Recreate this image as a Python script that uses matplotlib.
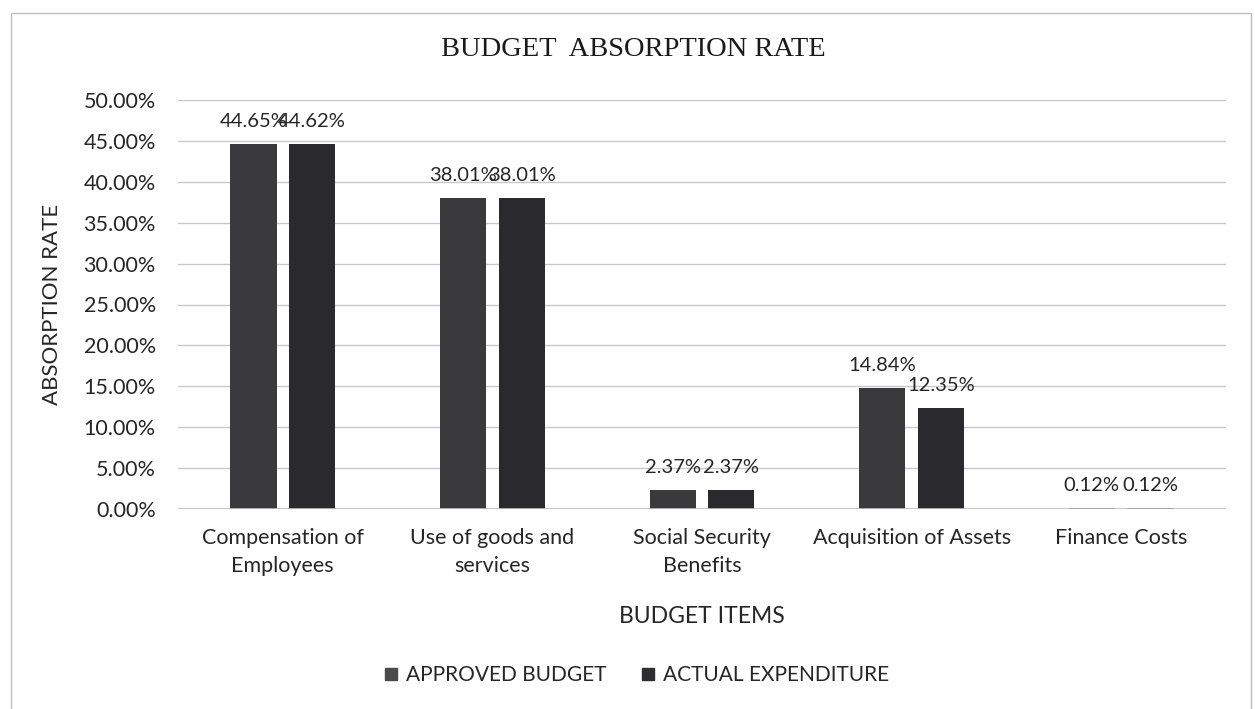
import matplotlib
matplotlib.use("Agg")
import matplotlib.pyplot as plt
from matplotlib.patches import Rectangle
from matplotlib.lines import Line2D
import numpy as np

categories = ["Compensation of\nEmployees", "Use of goods and\nservices",
              "Social Security\nBenefits", "Acquisition of Assets", "Finance Costs"]
approved_budget = [44.65, 38.01, 2.37, 14.84, 0.12]
actual_expenditure = [44.62, 38.01, 2.37, 12.35, 0.12]
series_names = ["APPROVED BUDGET", "ACTUAL EXPENDITURE"]
yticks = [0, 5, 10, 15, 20, 25, 30, 35, 40, 45, 50]

W, H = 1255, 709
fig = plt.figure(figsize=(W / 100, H / 100), dpi=100)
fig.patch.set_facecolor("white")

sans = ["Lato", "DejaVu Sans"]
serif = ["Liberation Serif", "DejaVu Serif"]
txt = "#262626"

# outer chart border
fig.patches.append(Rectangle((11 / W, 1 - 714 / H), (1251 - 11) / W, (714 - 13) / H,
                             transform=fig.transFigure, fill=False,
                             edgecolor="#bdbdbd", linewidth=1.0))

ax = fig.add_axes([178 / W, 1 - 509 / H, (1226 - 178) / W, (509 - 100) / H])
x = np.arange(len(categories))
bw = 0.22
off = 0.14
c1, c2 = "#3a3a3c", "#2a2a2e"
b1 = ax.bar(x - off, approved_budget, bw, color=c1, zorder=3)
b2 = ax.bar(x + off, actual_expenditure, bw, color=c2, zorder=3)

for bars, vals in ((b1, approved_budget), (b2, actual_expenditure)):
    for r, v in zip(bars, vals):
        ax.annotate(f"{v:.2f}%", (r.get_x() + r.get_width() / 2, v),
                    xytext=(0, 12), textcoords="offset points",
                    ha="center", va="baseline", fontsize=14.5,
                    family=sans, color=txt, zorder=5)

ax.set_xlim(-0.5, len(categories) - 0.5)
ax.set_ylim(0, 50)
ax.set_yticks(yticks)
ax.set_yticklabels([f"{t:.2f}%" for t in yticks], fontsize=15.5, family=sans, color=txt)
ax.set_xticks(x)
ax.set_xticklabels(categories, fontsize=15.5, family=sans, color=txt, linespacing=1.5)
ax.tick_params(axis="y", length=0, pad=16)
ax.tick_params(axis="x", length=0, pad=14)
ax.grid(axis="y", color="#c8c8c8", linewidth=1.0, zorder=0)
for s in ax.spines.values():
    s.set_visible(False)
ax.axhline(0, color="#bfbfbf", linewidth=1.2, zorder=4)

ax.set_ylabel("ABSORPTION RATE", fontsize=16, family=sans, color=txt)
ax.yaxis.set_label_coords((62 - 178) / (1226 - 178), 0.5)
ax.set_xlabel("BUDGET ITEMS", fontsize=16.5, family=sans, color=txt)
ax.xaxis.set_label_coords((702 - 178) / (1226 - 178), -(606 - 509) / (509 - 100))

fig.text(633 / W, 1 - 50 / H, "BUDGET  ABSORPTION RATE", ha="center", va="center",
         fontsize=20.5, family=serif, color="#1a1a1a")

handles = [Line2D([], [], marker="s", linestyle="none", markersize=8, color="#4a4a4a"),
           Line2D([], [], marker="s", linestyle="none", markersize=8, color="#2e2e32")]
fig.legend(handles, series_names, loc="center", bbox_to_anchor=(636 / W, 1 - 675 / H),
           ncol=2, frameon=False, prop={"family": sans, "size": 15},
           handletextpad=0.3, columnspacing=1.6, handlelength=0.8, labelcolor=txt)

fig.savefig("out.png", dpi=100, facecolor="white")
